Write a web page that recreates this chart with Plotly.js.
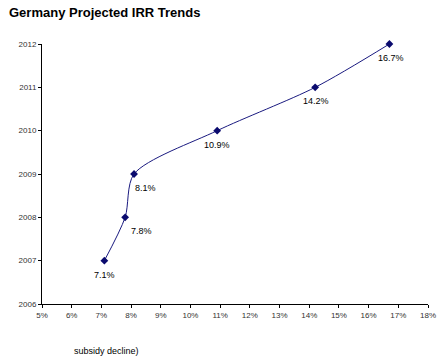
<!DOCTYPE html>
<html><head><meta charset="utf-8">
<script src="https://cdn.plot.ly/plotly-3.0.1.min.js"></script>
<style>html,body{margin:0;padding:0;background:#fff;}#c{width:446px;height:357px;}</style>
</head><body><div id="c"></div>
<script>
const irr = [7.1, 7.8, 8.1, 10.9, 14.2, 16.7];
const years = [2007, 2008, 2009, 2010, 2011, 2012];
const pointLabels = ['7.1%', '7.8%', '8.1%', '10.9%', '14.2%', '16.7%'];
const xTicks = [5,6,7,8,9,10,11,12,13,14,15,16,17,18];
const xTickLabels = xTicks.map(v => v + '%');
const yTicks = [2006, 2007, 2008, 2009, 2010, 2011, 2012];

const FONT = 'Liberation Sans, Arial, sans-serif';
const labelShiftX = [0, 16, 11, 0, 1, 2];

const trace = {
  x: irr, y: years, mode: 'lines+markers', type: 'scatter',
  line: {color: '#1a1a80', width: 1, shape: 'spline', smoothing: 0.8},
  marker: {symbol: 'diamond', size: 6, color: '#0a0a6e'},
  cliponaxis: false, hoverinfo: 'none'
};
const labelAnns = irr.map((v, i) => ({
  x: v, y: years[i], xref: 'x', yref: 'y', text: pointLabels[i], showarrow: false,
  xanchor: 'center', yanchor: 'middle', xshift: labelShiftX[i], yshift: -14,
  font: {family: FONT, size: 9, color: '#000'}
}));
const layout = {
  width: 446, height: 357,
  margin: {l: 42, r: 18, t: 44, b: 53},
  paper_bgcolor: '#fff', plot_bgcolor: '#fff',
  showlegend: false,
  font: {family: FONT, size: 9, color: '#000'},
  xaxis: {range: [5, 18], tickvals: xTicks, ticktext: xTickLabels, showgrid: false, zeroline: false,
    showline: true, linecolor: '#000', linewidth: 1, ticks: 'outside', ticklen: 3, tickcolor: '#000',
    tickfont: {size: 8, color: '#333'}, fixedrange: true},
  yaxis: {range: [2006, 2012], tickvals: yTicks, showgrid: false, zeroline: false,
    showline: true, linecolor: '#000', linewidth: 1, ticks: 'outside', ticklen: 3, tickcolor: '#000',
    tickfont: {size: 8, color: '#333'}, fixedrange: true},
  annotations: [
    {text: '<b>Germany Projected IRR Trends</b>', xref: 'paper', yref: 'paper', x: -0.09, y: 0.123,
      xanchor: 'left', yanchor: 'middle', showarrow: false,
      font: {family: FONT, size: 13, color: '#000'}},
    {text: 'subsidy decline)', xref: 'paper', yref: 'paper', x: 0.077, y: -0.18,
      xanchor: 'left', yanchor: 'middle', showarrow: false,
      font: {family: FONT, size: 9, color: '#000'}}
  ].concat(labelAnns)
};
layout.annotations[0].y = 1 + (44 - 12) / 260;
Plotly.newPlot('c', [trace], layout, {staticPlot: true});
</script></body></html>
